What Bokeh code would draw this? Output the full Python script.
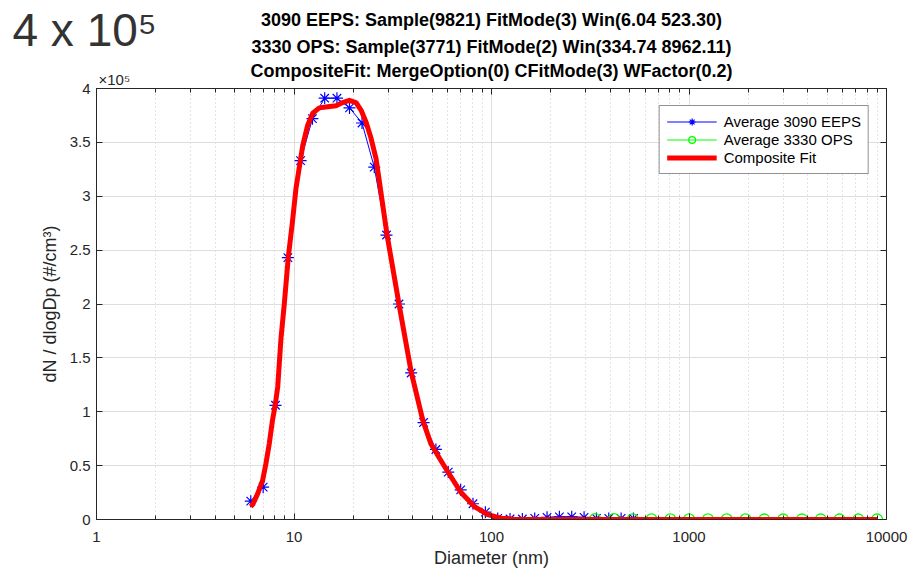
from bokeh.plotting import figure
from bokeh.models import (Legend, LegendItem, FixedTicker, LogAxis, LinearAxis,
                          Range1d, ColumnDataSource, Title)
from bokeh.embed import file_html
from bokeh.resources import INLINE

# ---------------- data ----------------
eeps_dp = [6.04, 6.98, 8.06, 9.31, 10.8, 12.4, 14.3, 16.5, 19.1, 22.1, 25.5, 29.4,
           34.0, 39.2, 45.3, 52.3, 60.4, 69.8, 80.6, 93.1, 107.5, 124.1, 143.3,
           165.5, 191.1, 220.7, 254.8, 294.3, 339.8, 392.4, 453.2, 523.3]
eeps_val = [17000, 30000, 106000, 243000, 333000, 372000, 391000, 391000, 382000,
            368000, 327000, 264000, 200000, 136000, 90000, 65000, 44000, 27500,
            14600, 6800, 1000, 500, 500, 1000, 2000, 2500, 2500, 2000, 1000, 1000,
            1000, 1000]

ops_dp = [334.74, 416.76, 518.88, 646.02, 804.32, 1001.4, 1246.8, 1552.3, 1932.6,
          2406.2, 2995.8, 3729.9, 4643.8, 5781.7, 7198.4, 8962.11]
ops_val = [400, 300, 200, 150, 100, 80, 60, 40, 30, 20, 15, 10, 8, 5, 3, 2]

fit_dp = [6.04, 6.18, 6.55, 6.93, 7.21, 7.49, 7.78, 8.03, 8.27, 8.6, 8.93, 9.35,
          9.83, 10.23, 11.07, 11.73, 12.44, 13.43, 14.81, 16.32, 17.64, 19.05,
          20.6, 21.84, 23.15, 24.54, 26.02, 27.04, 29.6, 34.0, 39.2, 44.9, 49.4,
          55.3, 61.2, 70.1, 82.0, 95.7, 111.7, 130.0, 150.0, 8962.11]
fit_val = [12000, 14000, 24000, 36000, 52000, 70000, 92000, 106000, 123000,
           169000, 200000, 243000, 277000, 307000, 347000, 366000, 377000, 382000,
           383000, 384000, 387000, 389000, 387000, 380000, 369000, 354000, 335000,
           314000, 264000, 200000, 137000, 92000, 70000, 55000, 42000, 25000,
           12000, 4600, 1200, 300, 0, 0]

x_ticks = [1, 10, 100, 1000, 10000]
x_tick_labels = ["1", "10", "100", "1000", "10000"]
y_ticks = [0, 50000, 100000, 150000, 200000, 250000, 300000, 350000, 400000]
y_tick_labels = ["0", "0.5", "1", "1.5", "2", "2.5", "3", "3.5", "4"]

title_lines = ["3090 EEPS: Sample(9821) FitMode(3) Win(6.04 523.30)",
               "3330 OPS: Sample(3771) FitMode(2) Win(334.74 8962.11)",
               "CompositeFit: MergeOption(0) CFitMode(3) WFactor(0.2)"]
big_multiplier = "4 x 10⁵"
axis_multiplier = "×10⁵"
legend_labels = ["Average 3090 EEPS", "Average 3330 OPS", "Composite Fit"]
x_label = "Diameter (nm)"
y_label = "dN / dlogDp (#/cm³)"

# ---------------- figure ----------------
AX = "#262626"
FONT = "Liberation Sans"
W, H = 910, 573
ML, MR, MT, MB = 96, 24, 88, 54

p = figure(width=W, height=H, x_axis_type="log",
           x_range=Range1d(1, 10000), y_range=Range1d(0, 400000),
           output_backend="svg", toolbar_location=None,
           min_border_left=ML, min_border_right=MR, min_border_top=MT,
           min_border_bottom=MB, background_fill_color="white",
           border_fill_color="white", outline_line_color=AX)

x_minor = [m * d for d in [1, 10, 100, 1000] for m in range(2, 10)]
xticker = FixedTicker(ticks=x_ticks, minor_ticks=x_minor)
yticker = FixedTicker(ticks=y_ticks)


def style_axis(ax):
    ax.axis_line_color = AX
    ax.major_tick_line_color = AX
    ax.minor_tick_line_color = AX
    ax.major_tick_in = 6
    ax.major_tick_out = 0
    ax.minor_tick_in = 4
    ax.minor_tick_out = 0
    ax.major_label_text_font = FONT
    ax.major_label_text_font_size = "15px"
    ax.major_label_text_color = AX
    ax.axis_label_text_font = FONT
    ax.axis_label_text_font_style = "normal"
    ax.axis_label_text_font_size = "18px"
    ax.axis_label_text_color = AX


xa = p.xaxis[0]
xa.ticker = xticker
xa.major_label_overrides = dict(zip(x_ticks, x_tick_labels))
style_axis(xa)
xa.major_label_standoff = 12
xa.axis_label = x_label
xa.axis_label_standoff = 3

ya = p.yaxis[0]
ya.ticker = yticker
ya.major_label_overrides = dict(zip(y_ticks, y_tick_labels))
style_axis(ya)
ya.major_label_standoff = 6
ya.axis_label = y_label
ya.axis_label_standoff = 7

# top axis (ticks only); its standoff sets the gap below the texts above it
top = LogAxis(ticker=xticker)
style_axis(top)
top.major_label_text_font_size = "1px"
top.major_label_standoff = 5
top.major_label_overrides = {t: " " for t in x_ticks}
p.add_layout(top, "above")

right = LinearAxis(ticker=yticker)
style_axis(right)
right.major_label_text_font_size = "1px"
right.major_label_standoff = 0
right.major_label_overrides = {t: " " for t in y_ticks}
p.add_layout(right, "right")


def head(text, size, bold, align, offset, standoff, color):
    return Title(text=text, align=align, offset=offset, standoff=standoff,
                 text_font=FONT, text_font_size=f"{size}px",
                 text_font_style="bold" if bold else "normal", text_color=color)


# stacked outward from the frame (first added = nearest to the frame)
p.add_layout(head(axis_multiplier, 15, False, "left", 2, -17, AX), "above")
p.add_layout(head(title_lines[2], 18, True, "center", 0, -6.5, "#000000"), "above")
p.add_layout(head(title_lines[1], 18, True, "center", 0, 9.5, "#000000"), "above")
p.add_layout(head(big_multiplier, 46, False, "left", -84, -52, "#333333"), "above")
p.add_layout(head(title_lines[0], 18, True, "center", 0, -4.5, "#000000"), "above")

p.xgrid.ticker = xticker
p.xgrid.grid_line_color = "#dedede"
p.xgrid.minor_grid_line_color = "#c8c8c8"
p.xgrid.minor_grid_line_dash = "1 3"
p.ygrid.ticker = yticker
p.ygrid.grid_line_color = "#dedede"

# ---------------- series ----------------
se = ColumnDataSource(dict(x=eeps_dp, y=eeps_val))
so = ColumnDataSource(dict(x=ops_dp, y=ops_val))
sf = ColumnDataSource(dict(x=fit_dp, y=fit_val))

r_el = p.line("x", "y", source=se, line_color="#0000ff", line_width=1)
r_em = p.scatter("x", "y", source=se, marker="asterisk", size=12,
                 line_color="#0000ff", line_width=1.2)
r_ol = p.line("x", "y", source=so, line_color="#00ff00", line_width=1)
r_om = p.scatter("x", "y", source=so, marker="circle", size=11, fill_color=None,
                 line_color="#00ff00", line_width=1.3)
r_f = p.line("x", "y", source=sf, line_color="#ff0000", line_width=5,
             line_join="round")

legend = Legend(items=[LegendItem(label=legend_labels[0], renderers=[r_el, r_em]),
                       LegendItem(label=legend_labels[1], renderers=[r_ol, r_om]),
                       LegendItem(label=legend_labels[2], renderers=[r_f])],
                location="top_right")
legend.margin = 17
legend.padding = 7
legend.spacing = 1
legend.glyph_width = 50
legend.glyph_height = 17
legend.label_height = 17
legend.label_standoff = 7
legend.label_text_font = FONT
legend.label_text_font_size = "15px"
legend.label_text_color = "#000000"
legend.border_line_color = AX
legend.background_fill_color = "white"
legend.background_fill_alpha = 1.0
p.add_layout(legend)

open("out.html", "w").write(file_html(p, INLINE))
